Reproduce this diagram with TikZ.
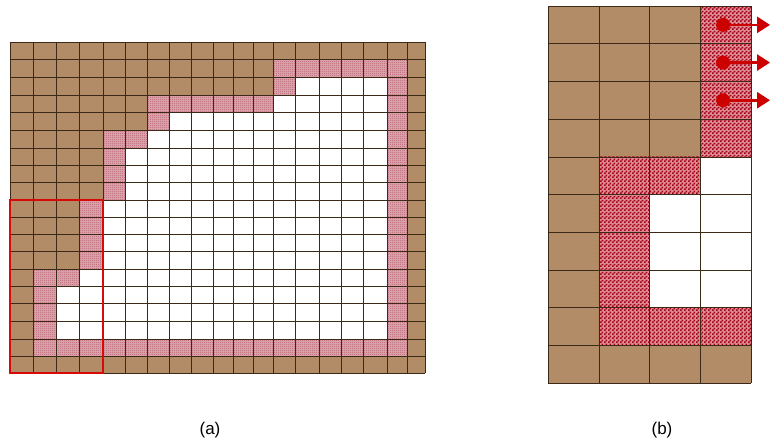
\documentclass[tikz,border=0pt]{standalone}
\usepackage{fontspec}
\setmainfont{Liberation Sans}
\usetikzlibrary{arrows.meta,patterns}
\definecolor{soilBrown}{RGB}{178,139,103}
\definecolor{wallPale}{RGB}{222,172,178}
\definecolor{wallDot}{RGB}{182,92,108}
\definecolor{wallPaleBig}{RGB}{222,140,150}
\definecolor{wallRed}{RGB}{160,0,18}
\definecolor{frameRed}{RGB}{215,10,10}
\definecolor{cellLine}{RGB}{60,42,25}
\definecolor{flowRed}{RGB}{205,0,0}
% checker fills for the wall cells
\pgfdeclarepatternformonly{fineChecker}{\pgfpointorigin}{\pgfqpoint{2pt}{2pt}}{\pgfqpoint{2pt}{2pt}}{%
    \pgfpathrectangle{\pgfpointorigin}{\pgfqpoint{1pt}{1pt}}%
    \pgfpathrectangle{\pgfqpoint{1pt}{1pt}}{\pgfqpoint{1pt}{1pt}}%
    \pgfusepath{fill}}
\pgfdeclarepatternformonly{coarseChecker}{\pgfpointorigin}{\pgfqpoint{4pt}{4pt}}{\pgfqpoint{4pt}{4pt}}{%
    \pgfpathrectangle{\pgfpointorigin}{\pgfqpoint{2pt}{2pt}}%
    \pgfpathrectangle{\pgfqpoint{2pt}{2pt}}{\pgfqpoint{2pt}{2pt}}%
    \pgfusepath{fill}}
\tikzset{
    soilcell/.style={fill=soilBrown},
    wallcell/.style={fill=wallPale,postaction={pattern=fineChecker,pattern color=wallDot}},
    wallcellbig/.style={fill=wallPaleBig,postaction={pattern=coarseChecker,pattern color=wallRed}},
    cellline/.style={draw=cellLine,line width=0.5pt},
    redframe/.style={draw=frameRed,line width=1.8pt},
    dot/.style={circle,fill=flowRed,minimum size=14pt,inner sep=0pt},
    flow/.style={-{Triangle[length=13pt,width=16pt]},draw=flowRed,fill=flowRed,line width=2.6pt},
    caption/.style={font=\fontsize{17}{20}\selectfont}
}
\begin{document}
\begin{tikzpicture}[x=1pt,y=-1pt]
    \useasboundingbox[fill=white] (0,0) rectangle (770,442);

    % (a) full domain, column and row boundaries
    \foreach \x [count=\i from 0] in {10,33,56,79,103,125,147,169,191,213,233,253,273,295,319,341,363,387,407,425}
        { \coordinate (ca\i) at (\x,42); }
    \foreach \y [count=\j from 0] in {42,59,77,95,112,130,148,165,182,200,217,234,251,269,286,303,321,339,356,373}
        { \coordinate (ra\j) at (10,\y); }
    \fill[white] (ca0 |- ra0) rectangle (ca19 |- ra19);
    \foreach \a/\b/\c/\d in {0/0/19/1,0/18/19/19,18/0/19/19,0/1/12/3,0/3/6/5,0/5/4/9,0/9/3/13,0/13/1/18}
        { \fill[soilcell] (ca\a |- ra\b) rectangle (ca\c |- ra\d); }
    \foreach \a/\b/\c/\d in {12/1/18/2,17/1/18/18,12/2/13/3,6/3/12/4,6/4/7/5,4/5/6/6,4/6/5/9,3/9/4/13,1/13/3/14,1/14/2/17,1/17/18/18}
        { \fill[wallcell] (ca\a |- ra\b) rectangle (ca\c |- ra\d); }
    \foreach \i in {0,...,19} {
        \draw[cellline] (ca\i |- ra0) -- (ca\i |- ra19);
        \draw[cellline] (ca0 |- ra\i) -- (ca19 |- ra\i);
    }
    \draw[redframe] (ca0 |- ra9) rectangle (ca4 |- ra19);

    % (b) zoomed corner
    \begin{scope}[shift={(548,6)},x=50.75pt,y=-37.7pt]
        \fill[white] (0,0) rectangle (4,10);
        \foreach \a/\b/\c/\d in {0/0/3/4,0/4/1/10,0/9/4/10}
            { \fill[soilcell] (\a,\b) rectangle (\c,\d); }
        \foreach \a/\b/\c/\d in {3/0/4/4,1/4/3/5,1/5/2/8,1/8/4/9}
            { \fill[wallcellbig] (\a,\b) rectangle (\c,\d); }
        \foreach \i in {0,...,4} { \draw[cellline] (\i,0) -- (\i,10); }
        \foreach \j in {0,...,10} { \draw[cellline] (0,\j) -- (4,\j); }

        \foreach \r [count=\n] in {0.5,1.5,2.5} {
            \node[dot] (src\n) at (3.45,\r) {};
            \coordinate (tip\n) at (4.375,\r);
            \draw[flow] (src\n.center) -- (tip\n);
        }
    \end{scope}

    \node[caption] (capa) at (210,430) {(a)};
    \node[caption] (capb) at (662,430) {(b)};
\end{tikzpicture}
\end{document}
